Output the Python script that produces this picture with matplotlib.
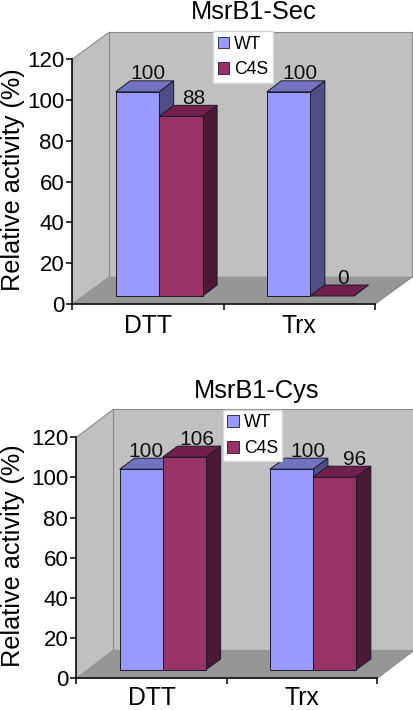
import matplotlib
matplotlib.use("Agg")
import matplotlib.pyplot as plt
from matplotlib.patches import Polygon, Patch

plt.rcParams['font.family'] = ['Liberation Sans', 'DejaVu Sans']

W, H = 414, 710
categories = ["DTT", "Trx"]
series_names = ["WT", "C4S"]
sec_wt = [100, 100]
sec_c4s = [88, 0]
cys_wt = [100, 100]
cys_c4s = [106, 96]
yticks = [0, 20, 40, 60, 80, 100, 120]

FACE = {"WT": "#9999FF", "C4S": "#993366"}
SIDE = {"WT": "#4F4F85", "C4S": "#4D1A33"}
TOP = {"WT": "#7373BF", "C4S": "#731F4D"}
EDGE = "#1a1a2a"

# pixel nudges of the value labels relative to the bar centre (style only)
sec_nudge = [[11, 13], [11, 11]]
cys_nudge = [[5, 13], [17, 20]]


def panel(box, title, wt, c4s, back_dx, back_dy, bar_w_px, shift_px, leg_xy, right_px, nudge, xpad):
    left, right, y0, y120 = box
    ax = fig.add_axes([left / W, 1 - y0 / H, (right - left) / W, (y0 - y120) / H])
    ax.set_xlim(0, 2)
    ax.set_ylim(0, 120)
    ux = (right - left) / 2
    uy = (y0 - y120) / 120
    dx, dy = back_dx / ux, back_dy / uy
    rx = (right_px - left) / ux
    # walls and floor
    wall = dict(edgecolor="#8a8a8a", linewidth=0.8, clip_on=False)
    ax.add_patch(Polygon([(dx, dy), (rx, dy), (rx, 120 + dy), (dx, 120 + dy)],
                         facecolor="#C0C0C0", zorder=1, **wall))
    ax.add_patch(Polygon([(0, 0), (dx, dy), (dx, 120 + dy), (0, 120)],
                         facecolor="#C0C0C0", zorder=1, **wall))
    ax.add_patch(Polygon([(0, 0), (2, 0), (2 + dx, dy), (dx, dy)],
                         facecolor="#969696", zorder=1, edgecolor="#969696",
                         linewidth=0.5, clip_on=False))
    ax.plot([2, 2 + dx], [0, dy], color="#8a8a8a", lw=0.8, zorder=1, clip_on=False)

    bw = bar_w_px / ux
    sx, sy = shift_px[0] / ux, shift_px[1] / uy
    ddx, ddy = shift_px[2] / ux, shift_px[3] / uy
    z = 3
    for i in range(len(categories)):
        for j, (name, vals) in enumerate(zip(series_names, [wt, c4s])):
            v = vals[i]
            x0 = i + 0.5 - bw + sx + j * bw
            x1 = x0 + bw
            yb, yt = sy, sy + v
            style = dict(edgecolor=EDGE, linewidth=0.7, zorder=z, clip_on=False)
            ax.add_patch(Polygon([(x1, yb), (x1 + ddx, yb + ddy), (x1 + ddx, yt + ddy), (x1, yt)],
                                 facecolor=SIDE[name], **style))
            ax.add_patch(Polygon([(x0, yt), (x1, yt), (x1 + ddx, yt + ddy), (x0 + ddx, yt + ddy)],
                                 facecolor=TOP[name], **style))
            if v > 0:
                ax.bar(x0, v, bw, bottom=yb, align="edge", color=FACE[name],
                       edgecolor=EDGE, linewidth=0.7, zorder=z, clip_on=False)
            ax.text((x0 + x1) / 2 + nudge[i][j] / ux, yt + ddy + 1.5 / uy, str(v),
                    ha="center", va="baseline", fontsize=15, color="#111111", zorder=z - 0.5)
            z += 1

    for s in ("top", "right"):
        ax.spines[s].set_visible(False)
    for s in ("left", "bottom"):
        ax.spines[s].set_linewidth(1.1)
        ax.spines[s].set_zorder(20)
    ax.patch.set_visible(False)
    ax.set_yticks(yticks)
    ax.set_xticks([0, 1, 2])
    ax.set_xticklabels([])
    ax.set_xticks([0.5, 1.5], minor=True)
    ax.set_xticklabels(categories, minor=True, fontsize=17.8)
    ax.tick_params(axis="x", which="minor", length=0, pad=xpad)
    ax.tick_params(axis="x", which="major", length=4, width=1.1)
    ax.tick_params(axis="y", length=4, width=1.1, labelsize=16, pad=2)
    ax.set_ylabel("Relative activity (%)", fontsize=18.2, va="center")
    ax.yaxis.set_label_coords((13 - left) / (right - left), 0.508)
    ax.set_title(title, x=0.6, y=1.163, fontsize=18.3, va="baseline", pad=0)
    handles = [Patch(facecolor=FACE[n], edgecolor=EDGE, linewidth=0.6) for n in series_names]
    leg = ax.legend(handles, series_names, loc="center",
                    bbox_to_anchor=(leg_xy[0] / W, 1 - leg_xy[1] / H),
                    bbox_transform=fig.transFigure, fontsize=12.7, fancybox=False,
                    framealpha=1, facecolor="white", edgecolor="#d8d8d8",
                    handlelength=0.65, handleheight=0.65, handletextpad=0.3,
                    labelspacing=0.5, borderpad=0.25, borderaxespad=0)
    leg.set_zorder(30)
    return ax


fig = plt.figure(figsize=(W / 100, H / 100), dpi=100, facecolor="white")
panel((72.5, 375, 304, 59), "MsrB1-Sec", sec_wt, sec_c4s, 37, 27, 43.5, (11, 8, 14.5, 11), (243, 57), 412, sec_nudge, 7.5)
panel((76.5, 377, 678.3, 437.3), "MsrB1-Cys", cys_wt, cys_c4s, 37, 28, 43, (11, 8.3, 15, 11), (252.5, 435.5), 414, cys_nudge, 5.2)
fig.savefig("out.png", dpi=100)
